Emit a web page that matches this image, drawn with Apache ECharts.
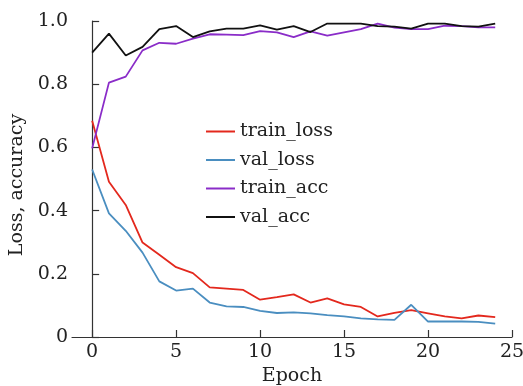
<!DOCTYPE html>
<html><head><meta charset="utf-8">
<script src="https://cdn.jsdelivr.net/npm/echarts@6/dist/echarts.min.js"></script>
<style>html,body{margin:0;padding:0;background:#fff}#c{width:523px;height:386px}</style>
</head><body><div id="c"></div>
<script>
const epochs = [0,1,2,3,4,5,6,7,8,9,10,11,12,13,14,15,16,17,18,19,20,21,22,23,24];
const trainLoss = [0.684,0.491,0.418,0.299,0.260,0.221,0.202,0.157,0.153,0.149,0.118,0.126,0.135,0.109,0.122,0.103,0.095,0.065,0.076,0.085,0.075,0.065,0.059,0.068,0.063];
const valLoss = [0.530,0.391,0.336,0.267,0.176,0.147,0.153,0.109,0.097,0.095,0.083,0.076,0.078,0.075,0.069,0.065,0.059,0.056,0.054,0.102,0.049,0.049,0.049,0.048,0.042];
const trainAcc = [0.597,0.805,0.824,0.907,0.931,0.928,0.944,0.958,0.957,0.955,0.968,0.964,0.949,0.967,0.954,0.964,0.974,0.992,0.979,0.974,0.974,0.985,0.984,0.980,0.980];
const valAcc = [0.900,0.960,0.891,0.918,0.974,0.984,0.949,0.967,0.976,0.976,0.986,0.973,0.984,0.965,0.992,0.992,0.992,0.984,0.982,0.976,0.992,0.992,0.984,0.982,0.992];
const xTicks = [0,5,10,15,20,25];
const yTicks = [0,0.2,0.4,0.6,0.8,1.0];
const seriesNames = ['train_loss','val_loss','train_acc','val_acc'];
const seriesColors = ['#e3281d','#4a8ec0','#8a2cc8','#111111'];
const seriesData = [trainLoss,valLoss,trainAcc,valAcc];

const FONT = 'DejaVu Serif';
const chart = echarts.init(document.getElementById('c'), null, {renderer:'canvas'});
chart.setOption({
  animation:false,
  backgroundColor:'#fff',
  grid:{left:72,right:11,top:21,bottom:49,containLabel:false,outerBoundsMode:'none'},
  legend:{
    show:true, orient:'vertical', left:206, top:122, padding:0,
    itemWidth:29, itemHeight:2, itemGap:9.5, icon:'rect',
    textStyle:{fontFamily:FONT,fontSize:19,color:'#222',padding:[0,0,0,0]},
    data:seriesNames
  },
  xAxis:{
    type:'value', min:-1.2, max:25,
    name:'Epoch', nameLocation:'middle', nameGap:30,
    nameTextStyle:{fontFamily:FONT,fontSize:19,color:'#222'},
    axisLine:{show:true,lineStyle:{color:'#333',width:1.2}},
    axisTick:{show:true,inside:true,length:7,lineStyle:{color:'#333',width:1.2},customValues:xTicks},
    axisLabel:{fontFamily:FONT,fontSize:19,color:'#222',margin:6,customValues:xTicks,formatter:v=>String(v)},
    splitLine:{show:false}
  },
  yAxis:{
    type:'value', min:0, max:1,
    name:'Loss, accuracy', nameLocation:'middle', nameGap:40, nameRotate:90,
    nameTextStyle:{fontFamily:FONT,fontSize:19,color:'#222',padding:[0,12,0,0]},
    axisLine:{show:true,lineStyle:{color:'#333',width:1.2}},
    axisTick:{show:true,inside:true,length:7,lineStyle:{color:'#333',width:1.2},customValues:yTicks},
    axisLabel:{fontFamily:FONT,fontSize:19,color:'#222',margin:4,customValues:yTicks,formatter:v=>v===0?'0':v.toFixed(1)},
    splitLine:{show:false}
  },
  series:seriesNames.map((n,i)=>({
    name:n, type:'line', showSymbol:false, symbol:'none',
    data:epochs.map((e,j)=>[e,seriesData[i][j]]),
    lineStyle:{color:seriesColors[i],width:1.8},
    itemStyle:{color:seriesColors[i]}
  }))
});
</script></body></html>
